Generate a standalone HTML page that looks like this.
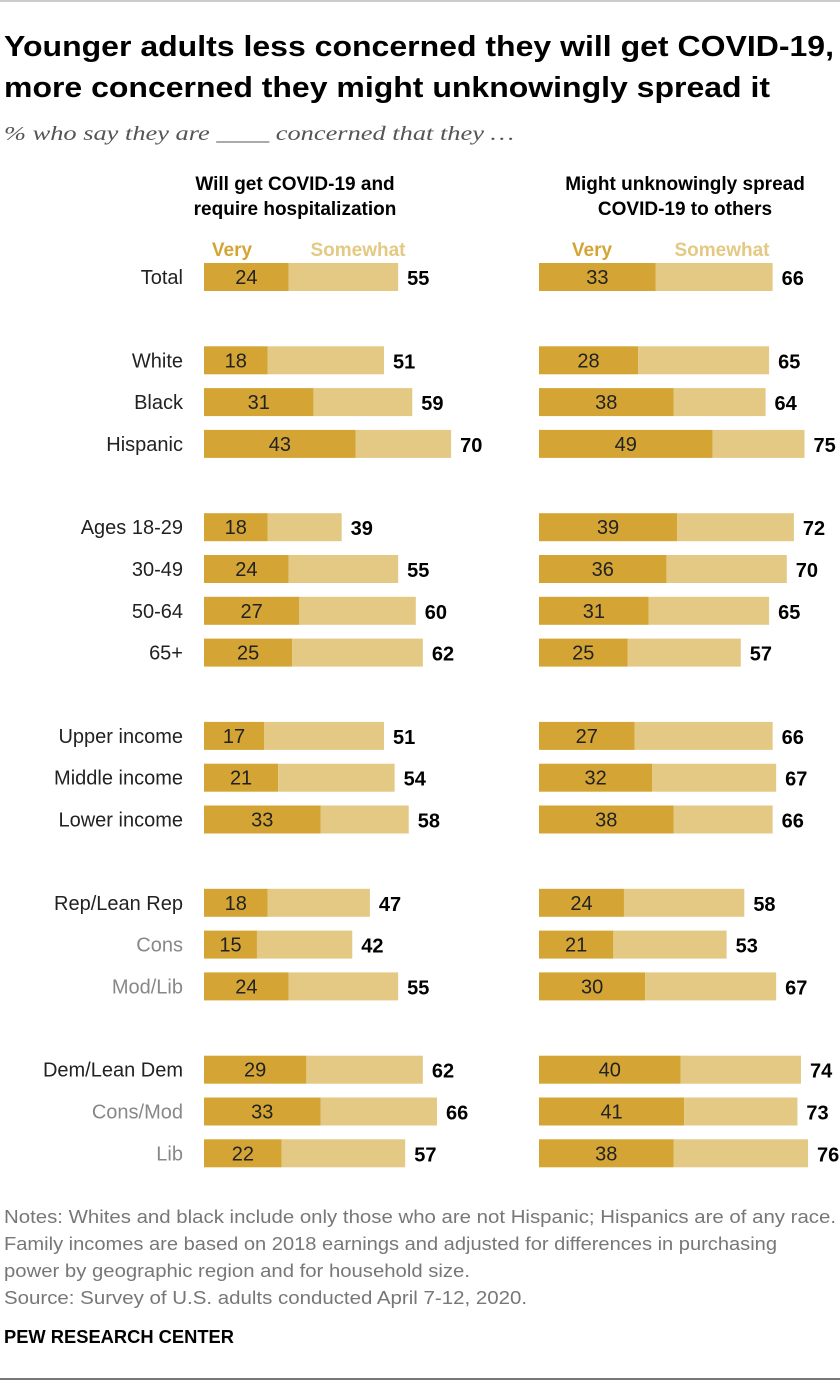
<!DOCTYPE html>
<html><head><meta charset="utf-8"><style>
body{margin:0;background:#fff;}
svg{display:block;font-family:"Liberation Sans",sans-serif;}
</style></head><body>
<svg id="chart" width="840" height="1383" viewBox="0 0 840 1383">
<line x1="0" y1="1" x2="840" y2="1" stroke="#999" stroke-width="1"/>
<text x="4" y="56" font-size="29" font-weight="bold" fill="#000" textLength="830" lengthAdjust="spacingAndGlyphs">Younger adults less concerned they will get COVID-19,</text>
<text x="4" y="97" font-size="29" font-weight="bold" fill="#000" textLength="766" lengthAdjust="spacingAndGlyphs">more concerned they might unknowingly spread it</text>
<text x="4" y="140" font-size="20" font-style="italic" fill="#555" font-family="Liberation Serif, serif" textLength="510" lengthAdjust="spacingAndGlyphs">% who say they are ____ concerned that they …</text>
<text x="295" y="190" font-size="19" font-weight="bold" text-anchor="middle" fill="#000">Will get COVID-19 and</text>
<text x="295" y="215" font-size="19" font-weight="bold" text-anchor="middle" fill="#000">require hospitalization</text>
<text x="685" y="190" font-size="19" font-weight="bold" text-anchor="middle" fill="#000">Might unknowingly spread</text>
<text x="685" y="215" font-size="19" font-weight="bold" text-anchor="middle" fill="#000">COVID-19 to others</text>
<text x="232" y="256" font-size="19" font-weight="bold" text-anchor="middle" fill="#d4a534">Very</text>
<text x="358" y="256" font-size="19" font-weight="bold" text-anchor="middle" fill="#e3c983">Somewhat</text>
<text x="592" y="256" font-size="19" font-weight="bold" text-anchor="middle" fill="#d4a534">Very</text>
<text x="722" y="256" font-size="19" font-weight="bold" text-anchor="middle" fill="#e3c983">Somewhat</text>
<g id="rows"></g>
<text x="4" y="1223" font-size="18" fill="#777" textLength="832" lengthAdjust="spacingAndGlyphs">Notes: Whites and black include only those who are not Hispanic; Hispanics are of any race.</text>
<text x="4" y="1250" font-size="18" fill="#777" textLength="773" lengthAdjust="spacingAndGlyphs">Family incomes are based on 2018 earnings and adjusted for differences in purchasing</text>
<text x="4" y="1277" font-size="18" fill="#777" textLength="466" lengthAdjust="spacingAndGlyphs">power by geographic region and for household size.</text>
<text x="4" y="1304" font-size="18" fill="#777" textLength="523" lengthAdjust="spacingAndGlyphs">Source: Survey of U.S. adults conducted April 7-12, 2020.</text>
<text x="4" y="1343" font-size="18" font-weight="bold" fill="#000" textLength="230" lengthAdjust="spacingAndGlyphs">PEW RESEARCH CENTER</text>
<line x1="0" y1="1379" x2="840" y2="1379" stroke="#777" stroke-width="2"/>
</svg>
<script>
const categories=["Total","White","Black","Hispanic","Ages 18-29","30-49","50-64","65+","Upper income","Middle income","Lower income","Rep/Lean Rep","Cons","Mod/Lib","Dem/Lean Dem","Cons/Mod","Lib"];
const subCats=["Cons","Mod/Lib","Cons/Mod","Lib"];
const groupIndex=[0,1,1,1,2,2,2,2,3,3,3,4,4,4,5,5,5];
const leftVery=[24,18,31,43,18,24,27,25,17,21,33,18,15,24,29,33,22];
const leftTotal=[55,51,59,70,39,55,60,62,51,54,58,47,42,55,62,66,57];
const rightVery=[33,28,38,49,39,36,31,25,27,32,38,24,21,30,40,41,38];
const rightTotal=[66,65,64,75,72,70,65,57,66,67,66,58,53,67,74,73,76];
const NS="http://www.w3.org/2000/svg";
const g=document.getElementById('rows');
function yPos(i){return 277+(i*41.8)+groupIndex[i]*41.5;}
function xL(v){return 204+v*3.53;}
function xR(v){return 539+v*3.54;}
function mk(tag,attrs){const e=document.createElementNS(NS,tag);for(const k in attrs)e.setAttribute(k,attrs[k]);return e;}
function panel(very,total,xf,x0,side,i,y){
  const r1=mk('rect',{x:x0,y:y-14,width:xf(very[i])-x0,height:28,fill:'#d4a534'});
  
  
  g.appendChild(r1);
  const r2=mk('rect',{x:xf(very[i]),y:y-14,width:xf(total[i])-xf(very[i]),height:28,fill:'#e3c983'});
  
  
  g.appendChild(r2);
  const t1=mk('text',{x:(x0+xf(very[i]))/2,y:y+7,'font-size':20,'text-anchor':'middle',fill:'#222'});
  t1.textContent=very[i];
  
  
  g.appendChild(t1);
  const t2=mk('text',{x:xf(total[i])+9,y:y+8,'font-size':20,'font-weight':'bold',fill:'#000'});
  t2.textContent=total[i];
  
  
  g.appendChild(t2);
}
categories.forEach((c,i)=>{
  const y=yPos(i);
  const lab=mk('text',{x:183,y:y+7,'font-size':20,'text-anchor':'end',fill:subCats.includes(c)&&i!==0?'#888':'#222'});
  lab.textContent=c;
  
  
  g.appendChild(lab);
  panel(leftVery,leftTotal,xL,204,'left',i,y);
  panel(rightVery,rightTotal,xR,539,'right',i,y);
});
</script>
</body></html>
